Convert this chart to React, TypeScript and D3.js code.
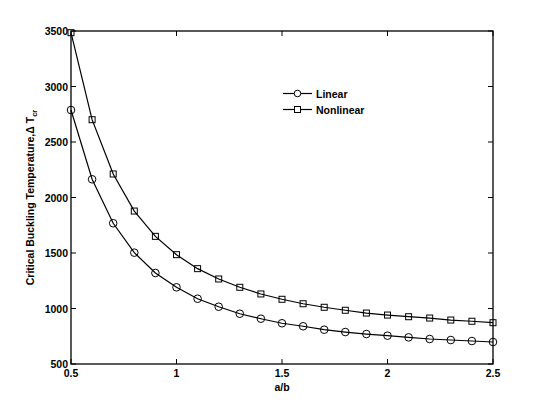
import React from "react";
import * as d3 from "d3";

const ratios = [0.5, 0.6, 0.7, 0.8, 0.9, 1.0, 1.1, 1.2, 1.3, 1.4, 1.5, 1.6, 1.7, 1.8, 1.9, 2.0, 2.1, 2.2, 2.3, 2.4, 2.5];
const linearVals = [2788, 2164, 1768, 1503, 1320, 1191, 1088, 1016, 953, 908, 867, 840, 809, 788, 770, 755, 740, 725, 716, 707, 698];
const nonlinearVals = [3485, 2701, 2212, 1878, 1650, 1485, 1359, 1266, 1191, 1131, 1083, 1043, 1011, 984, 959, 941, 926, 914, 896, 885, 872];
const xTicks = [0.5, 1, 1.5, 2, 2.5];
const yTicks = [500, 1000, 1500, 2000, 2500, 3000, 3500];

export default function App() {
  const W = 545, H = 409;
  const L = 71, R = 493, T = 31, B = 364;
  const x = d3.scaleLinear().domain([0.5, 2.5]).range([L, R]);
  const y = d3.scaleLinear().domain([500, 3500]).range([B, T]);
  const line = d3.line<number>().x((_, i) => x(ratios[i])).y((d) => y(d));
  const font = "'Liberation Sans', Arial, sans-serif";
  const tk = 5;
  return (
    <svg width={W} height={H} style={{ position: "absolute", left: 0, top: 0, background: "#fff" }} fontFamily={font}>
      <rect x={0} y={0} width={W} height={H} fill="#fff" />
      <rect x={L} y={T} width={R - L} height={B - T} fill="none" stroke="#000" strokeWidth={1.3} />
      {xTicks.map((t) => (
        <g key={"x" + t}>
          <line x1={x(t)} x2={x(t)} y1={B} y2={B - tk} stroke="#000" />
          <line x1={x(t)} x2={x(t)} y1={T} y2={T + tk} stroke="#000" />
          <text x={x(t)} y={B + 13} textAnchor="middle" fontSize={10.5} fontWeight="bold">{t}</text>
        </g>
      ))}
      {yTicks.map((t) => (
        <g key={"y" + t}>
          <line x1={L} x2={L + tk} y1={y(t)} y2={y(t)} stroke="#000" />
          <line x1={R} x2={R - tk} y1={y(t)} y2={y(t)} stroke="#000" />
          <text x={L - 3} y={y(t) + 4} textAnchor="end" fontSize={10.5} fontWeight="bold">{t}</text>
        </g>
      ))}
      <text x={x(1.5)} y={391} textAnchor="middle" fontSize={10.5} fontWeight="bold">a/b</text>
      <text transform={`translate(34,${(T + B) / 2}) rotate(-90)`} textAnchor="middle" fontSize={10.5} fontWeight="bold">
        Critical Buckling Temperature,Δ T<tspan fontSize={7.5} dy={3}>cr</tspan>
      </text>
      <path d={line(linearVals) || ""} fill="none" stroke="#000" strokeWidth={1.2} />
      <path d={line(nonlinearVals) || ""} fill="none" stroke="#000" strokeWidth={1.2} />
      {linearVals.map((v, i) => (
        <circle key={"c" + i} cx={x(ratios[i])} cy={y(v)} r={3.8} fill="none" stroke="#000" strokeWidth={1} />
      ))}
      {nonlinearVals.map((v, i) => (
        <rect key={"s" + i} x={x(ratios[i]) - 3} y={y(v) - 3} width={6} height={6} fill="none" stroke="#000" strokeWidth={1} />
      ))}
      <g>
        <line x1={283} x2={312} y1={93.5} y2={93.5} stroke="#000" strokeWidth={1.2} />
        <circle cx={297.5} cy={93.5} r={3.3} fill="#fff" stroke="#000" strokeWidth={1} />
        <text x={316} y={97.5} fontSize={10.5} fontWeight="bold">Linear</text>
        <line x1={283} x2={312} y1={109.5} y2={109.5} stroke="#000" strokeWidth={1.2} />
        <rect x={294.5} y={106.5} width={6} height={6} fill="#fff" stroke="#000" strokeWidth={1} />
        <text x={316} y={113.5} fontSize={10.5} fontWeight="bold">Nonlinear</text>
      </g>
    </svg>
  );
}
